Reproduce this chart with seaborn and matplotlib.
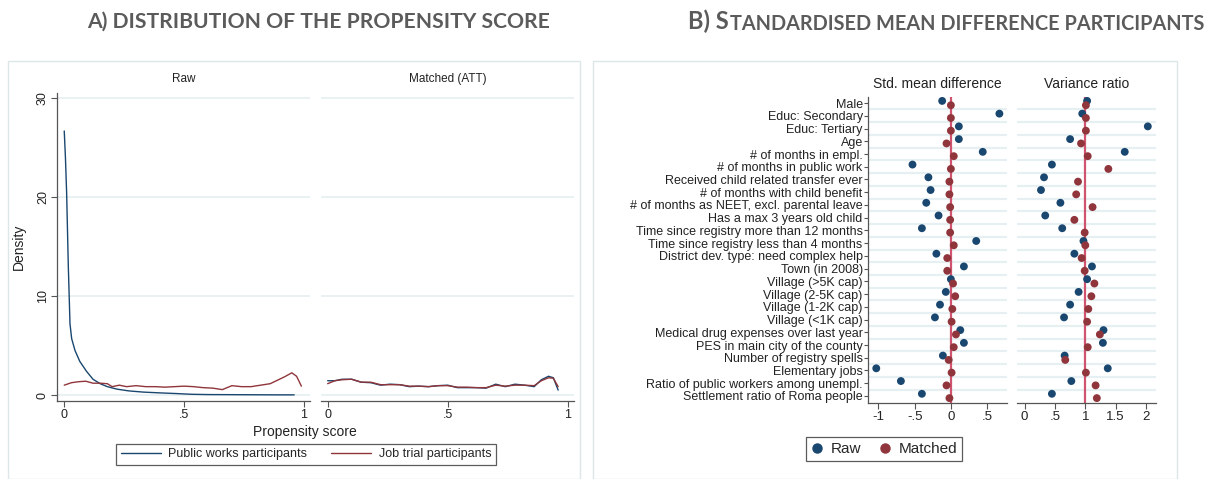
import matplotlib
matplotlib.use("Agg")
import matplotlib.pyplot as plt
import seaborn as sns
import pandas as pd
from matplotlib.lines import Line2D
from matplotlib.patches import Rectangle

sns.set_theme(style="white")
plt.rcParams['font.family'] = ['Liberation Sans', 'DejaVu Sans']

W, H = 1222, 479
NAVY = "#1a476f"
MAROON = "#90353b"
REFLINE = "#d05470"
GRID = "#e6eff1"
AXCOL = "#555555"

# --- panel A: kernel densities of the propensity score ---
raw_pw_x = [0, 0.005, 0.01, 0.017, 0.024, 0.031, 0.045, 0.065, 0.093, 0.12, 0.15, 0.18, 0.22,
            0.27, 0.33, 0.40, 0.47, 0.53, 0.6, 0.7, 0.8, 0.9, 0.96]
raw_pw_y = [26.7, 24, 20.4, 13, 7.2, 5.7, 4.5, 3.4, 2.4, 1.6, 1.15, 0.85, 0.6,
            0.42, 0.3, 0.22, 0.15, 0.08, 0.05, 0.04, 0.03, 0.02, 0.02]
raw_jt_x = [0, 0.03, 0.06, 0.09, 0.12, 0.15, 0.18, 0.2, 0.23, 0.26, 0.3, 0.34, 0.38, 0.42, 0.46,
            0.5, 0.54, 0.58, 0.62, 0.66, 0.7, 0.74, 0.78, 0.82, 0.86, 0.89, 0.92, 0.95, 0.97, 0.99]
raw_jt_y = [1.0, 1.25, 1.35, 1.4, 1.2, 1.2, 1.15, 0.85, 1.0, 0.85, 0.95, 0.85, 0.85, 0.8, 0.85,
            0.9, 0.85, 0.75, 0.7, 0.55, 0.95, 0.85, 0.85, 1.0, 1.15, 1.5, 1.85, 2.25, 1.9, 0.9]
mat_x = [0, 0.03, 0.06, 0.1, 0.14, 0.18, 0.22, 0.26, 0.3, 0.34, 0.38, 0.42, 0.46, 0.5,
         0.54, 0.58, 0.62, 0.66, 0.7, 0.74, 0.78, 0.82, 0.86, 0.89, 0.92, 0.94, 0.96]
mat_pw_y = [1.45, 1.45, 1.6, 1.6, 1.3, 1.25, 1.0, 1.1, 1.05, 0.85, 0.9, 0.85, 0.95, 1.0,
            0.75, 0.75, 0.75, 0.7, 1.1, 0.85, 1.1, 1.0, 0.85, 1.55, 1.9, 1.75, 0.5]
mat_jt_y = [1.15, 1.45, 1.55, 1.6, 1.3, 1.3, 1.05, 1.05, 1.05, 0.9, 0.9, 0.85, 0.95, 0.95,
            0.8, 0.8, 0.75, 0.75, 1.0, 0.9, 1.0, 1.0, 0.95, 1.45, 1.75, 1.7, 0.85]

# --- panel B: balance statistics ---
covariates = [
    "Male", "Educ: Secondary", "Educ: Tertiary", "Age", "# of months in empl.",
    "# of months in public work", "Received child related transfer ever",
    "# of months with child benefit", "# of months as NEET, excl. parental leave",
    "Has a max 3 years old child", "Time since registry more than 12 months",
    "Time since registry less than 4 months", "District dev. type: need complex help",
    "Town (in 2008)", "Village (>5K cap)", "Village (2-5K cap)", "Village (1-2K cap)",
    "Village (<1K cap)", "Medical drug expenses over last year", "PES in main city of the county",
    "Number of registry spells", "Elementary jobs", "Ratio of public workers among unempl.",
    "Settlement ratio of Roma people",
]
smd_raw = [-0.12, 0.67, 0.11, 0.11, 0.44, -0.53, -0.31, -0.28, -0.34, -0.17, -0.40, 0.35,
           -0.20, 0.18, 0.00, -0.07, -0.15, -0.22, 0.13, 0.18, -0.11, -1.03, -0.69, -0.40]
smd_matched = [0.00, 0.00, 0.00, -0.06, 0.04, 0.00, -0.02, -0.02, -0.01, -0.01, -0.01, 0.04,
               -0.05, -0.05, 0.03, 0.06, 0.02, 0.01, 0.07, 0.04, -0.03, 0.01, -0.06, -0.02]
vr_raw = [1.03, 0.95, 2.03, 0.75, 1.65, 0.45, 0.32, 0.27, 0.59, 0.34, 0.62, 0.97,
          0.82, 1.11, 1.03, 0.89, 0.75, 0.65, 1.30, 1.29, 0.66, 1.37, 0.77, 0.45]
vr_matched = [1.01, 1.01, 1.01, 0.93, 1.04, 1.38, 0.88, 0.85, 1.12, 0.82, 0.99, 1.00,
              0.94, 0.99, 1.15, 1.10, 1.05, 1.03, 1.24, 1.04, 0.67, 1.01, 1.17, 1.19]


def rect(l, t, r, b):
    return [l / W, 1 - b / H, (r - l) / W, (b - t) / H]


def style_axis(ax, left=True):
    sns.despine(ax=ax, left=not left)
    for s in ["bottom", "left"]:
        ax.spines[s].set_color(AXCOL)
        ax.spines[s].set_linewidth(0.9)
    ax.tick_params(axis="both", which="both", direction="out", length=4, width=0.8,
                   color=AXCOL, labelsize=9, pad=2, labelcolor="#222222")
    ax.tick_params(axis="x", bottom=True)
    ax.tick_params(axis="y", left=left, labelleft=left)


fig = plt.figure(figsize=(W / 100, H / 100), dpi=100)
fig.patch.set_facecolor("white")

# frames around the two panels
fig.patches.append(Rectangle((8 / W, 0), 572 / W, 1 - 61 / H, transform=fig.transFigure,
                             fill=False, edgecolor="#dde6e9", lw=1))
fig.patches.append(Rectangle((593 / W, 0), 584 / W, 1 - 61 / H, transform=fig.transFigure,
                             fill=False, edgecolor="#dde6e9", lw=1))

# ---- Panel A ----
dens_raw = pd.concat([
    pd.DataFrame({"score": raw_pw_x, "density": raw_pw_y, "group": "Public works participants"}),
    pd.DataFrame({"score": raw_jt_x, "density": raw_jt_y, "group": "Job trial participants"}),
])
dens_mat = pd.concat([
    pd.DataFrame({"score": mat_x, "density": mat_pw_y, "group": "Public works participants"}),
    pd.DataFrame({"score": mat_x, "density": mat_jt_y, "group": "Job trial participants"}),
])
pal = {"Public works participants": NAVY, "Job trial participants": MAROON}

axA1 = fig.add_axes(rect(57.3, 92.7, 310, 401))
axA2 = fig.add_axes(rect(320.7, 92.7, 574, 401))
for ax, d, ttl, left in [(axA1, dens_raw, "Raw", True), (axA2, dens_mat, "Matched (ATT)", False)]:
    for yv in [0, 10, 20, 30]:
        ax.axhline(yv, color=GRID, lw=1.2, zorder=0)
    sns.lineplot(data=d, x="score", y="density", hue="group", palette=pal, ax=ax,
                 legend=False, lw=1.0, sort=False, estimator=None)
    ax.set_xlim(-0.029, 1.026)
    ax.set_ylim(-0.6, 30.57)
    ax.set_xticks([0, 0.5, 1])
    ax.set_xticklabels(["0", ".5", "1"])
    ax.set_yticks([0, 10, 20, 30])
    ax.set_yticklabels(["0", "10", "20", "30"], rotation=90, va="center")
    ax.set_xlabel("")
    ax.set_ylabel("")
    style_axis(ax, left=left)
    ax.set_title(ttl, fontsize=8.5, pad=8, color="#222222")

axA1.set_ylabel("Density", fontsize=10, color="#222222", labelpad=8)
fig.text(305 / W, 1 - 432 / H, "Propensity score", ha="center", va="center", fontsize=10,
         color="#222222")
hA = [Line2D([], [], color=NAVY, lw=1.0), Line2D([], [], color=MAROON, lw=1.0)]
legA = fig.legend(hA, ["Public works participants", "Job trial participants"],
                  loc="center", bbox_to_anchor=(306 / W, 1 - 454.5 / H), ncol=2, fontsize=9,
                  frameon=True, fancybox=False, edgecolor="#333333", handlelength=3.2,
                  columnspacing=1.9, borderpad=0.35, handletextpad=0.6, borderaxespad=0)
legA.get_frame().set_linewidth(0.9)

# ---- Panel B ----
n = len(covariates)
pos = list(range(n))
bal = pd.concat([
    pd.DataFrame({"pos": [p - 0.17 for p in pos], "smd": smd_raw, "vr": vr_raw, "sample": "Raw"}),
    pd.DataFrame({"pos": [p + 0.17 for p in pos], "smd": smd_matched, "vr": vr_matched,
                  "sample": "Matched"}),
])
palB = {"Raw": NAVY, "Matched": MAROON}

axB1 = fig.add_axes(rect(868.3, 96.7, 1007, 402.7))
axB2 = fig.add_axes(rect(1016.7, 96.7, 1155.7, 402.7))
for ax, col, ref, xl, ticks, labels, ttl, left in [
    (axB1, "smd", 0, (-1.14, 0.775), [-1, -0.5, 0, 0.5], ["-1", "-.5", "0", ".5"],
     "Std. mean difference", True),
    (axB2, "vr", 1, (-0.13, 2.16), [0, 0.5, 1, 1.5, 2], ["0", ".5", "1", "1.5", "2"],
     "Variance ratio", False),
]:
    for g in range(n - 1):
        ax.axhline(g + 0.5, color=GRID, lw=1.6, zorder=0)
    ax.axvline(ref, color=REFLINE, lw=1.6, zorder=1)
    sns.scatterplot(data=bal, x=col, y="pos", hue="sample", palette=palB, ax=ax, legend=False,
                    s=32, edgecolor="none", zorder=3)
    ax.set_xlim(*xl)
    ax.set_ylim(n - 1 + 0.53, -0.5)
    ax.set_xticks(ticks)
    ax.set_xticklabels(labels)
    ax.set_yticks(pos)
    ax.set_yticklabels(covariates)
    ax.set_xlabel("")
    ax.set_ylabel("")
    style_axis(ax, left=left)
    ax.tick_params(axis="y", labelsize=9, length=3, pad=1)
    ax.tick_params(axis="x", labelsize=9.5)
    ax.set_title(ttl, fontsize=10, pad=6, color="#222222")

hB = [Line2D([], [], marker="o", ls="", color=NAVY, markersize=6.5),
      Line2D([], [], marker="o", ls="", color=MAROON, markersize=6.5)]
legB = fig.legend(hB, ["Raw", "Matched"], loc="center", bbox_to_anchor=(884 / W, 1 - 449 / H),
                  ncol=2, fontsize=11, frameon=True, fancybox=False, edgecolor="#333333",
                  handlelength=0.8, handletextpad=0.5, columnspacing=1.2, borderpad=0.3,
                  borderaxespad=0)
legB.get_frame().set_linewidth(0.9)

# ---- headings ----
TCOL = "#5b5b5b"
fig.text(319 / W, 1 - 22 / H, "A) DISTRIBUTION OF THE PROPENSITY SCORE", ha="center",
         va="center", fontsize=15.2, fontweight="bold", color=TCOL, family="Lato")

fig.canvas.draw()
r = fig.canvas.get_renderer()
yb = 1 - 29.5 / H
t1 = fig.text(0, yb, "B) S", fontsize=17, fontweight="bold", color=TCOL, family="Lato",
              va="baseline")
t2 = fig.text(0, yb, "TANDARDISED MEAN DIFFERENCE PARTICIPANTS", fontsize=14.3,
              fontweight="bold", color=TCOL, family="Lato", va="baseline")
w1 = t1.get_window_extent(r).width
w2 = t2.get_window_extent(r).width
x0 = 946 - (w1 + w2) / 2
t1.set_x(x0 / W)
t2.set_x((x0 + w1 + 1) / W)

fig.savefig("out.png", dpi=100, facecolor="white")
